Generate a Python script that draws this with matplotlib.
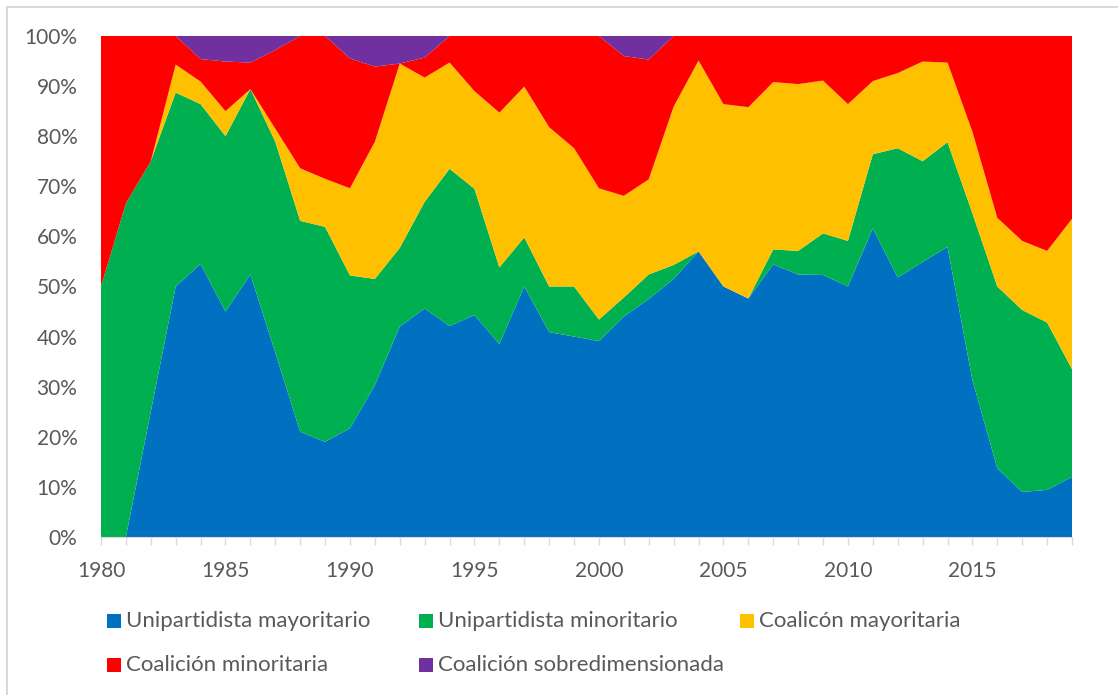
import numpy as np
import matplotlib.pyplot as plt
from matplotlib.patches import Rectangle
from matplotlib.lines import Line2D

# Data (share of governments by type, %)
years = np.arange(1980, 2020)

unip_mayoritario = [0, 0, 25, 50, 54.5, 45, 52.4, 36.8, 21, 19,
                    21.7, 30.3, 42, 45.6, 42.1, 44.3, 38.5, 50, 40.9, 40,
                    39.1, 44, 47.5, 51.5, 57, 50, 47.6, 54.4, 52.4, 52.3,
                    50, 61.6, 51.8, 54.9, 57.9, 31.3, 13.7, 9, 9.4, 12]
unip_minoritario = [50, 66.6, 50, 38.7, 31.9, 35, 37, 42.1, 42.1, 42.9,
                    30.5, 21.2, 15.7, 21.3, 31.4, 25.2, 15.3, 9.8, 9.1, 10,
                    4.3, 3.8, 4.9, 2.8, 0, 0, 0, 3, 4.7, 8.3,
                    9.1, 14.8, 25.8, 20.1, 20.9, 33.3, 36.3, 36.3, 33.4, 21.5]
coal_mayoritaria = [0, 0, 0, 5.6, 4.5, 5, 0, 2.6, 10.5, 9.6,
                    17.4, 27.4, 36.8, 24.8, 21.2, 19.5, 30.9, 30.1, 31.8, 27.6,
                    26.2, 20.3, 19, 31.6, 38.1, 36.4, 38.2, 33.4, 33.3, 30.5,
                    27.3, 14.6, 15, 19.9, 15.9, 16.3, 13.7, 13.8, 14.3, 30]
coal_minoritaria = [50, 33.4, 25, 5.7, 4.5, 9.9, 5.3, 15.7, 26.4, 28.5,
                    25.9, 15, 0, 4, 5.3, 11, 15.3, 10.1, 18.2, 22.4,
                    30.4, 27.9, 23.9, 14.1, 4.9, 13.6, 14.2, 9.2, 9.6, 8.9,
                    13.6, 9, 7.4, 5.1, 5.3, 19.1, 36.3, 40.9, 42.9, 36.5]
coal_sobredim = [0, 0, 0, 0, 4.6, 5.1, 5.3, 2.8, 0, 0,
                 4.5, 6.1, 5.5, 4.3, 0, 0, 0, 0, 0, 0,
                 0, 4, 4.7, 0, 0, 0, 0, 0, 0, 0,
                 0, 0, 0, 0, 0, 0, 0, 0, 0, 0]

labels = ["Unipartidista mayoritario", "Unipartidista minoritario",
          "Coalicón mayoritaria", "Coalición minoritaria",
          "Coalición sobredimensionada"]
colors = ["#0070C0", "#00B050", "#FFC000", "#FF0000", "#7030A0"]

plt.rcParams['font.family'] = ['Lato', 'DejaVu Sans']

W, H = 1118, 695
fig = plt.figure(figsize=(W / 100, H / 100), dpi=100)
ax = fig.add_axes([101 / W, 1 - 537 / H, (1072 - 101) / W, (537 - 36) / H])

# Stacked areas
ax.stackplot(years, unip_mayoritario, unip_minoritario, coal_mayoritaria,
             coal_minoritaria, coal_sobredim, colors=colors, linewidth=0)

# Axes styling
ax.set_xlim(1980, 2019)
ax.set_ylim(0, 100)
ax.set_yticks(np.arange(0, 101, 10))
ax.set_yticklabels([f"{v}%" for v in range(0, 101, 10)])
ax.set_xticks(years)
ax.set_xticklabels([str(y) if y % 5 == 0 else "" for y in years])
ax.tick_params(axis='y', length=0, pad=17, labelsize=15, labelcolor="#595959")
ax.tick_params(axis='x', length=6, width=1, color="#D9D9D9", pad=11,
               labelsize=15, labelcolor="#595959")
for side in ["top", "right", "left"]:
    ax.spines[side].set_visible(False)
ax.spines["bottom"].set_color("#D9D9D9")

# Legend, drawn by hand to follow the two-row layout
legend_pos = [(107, 621), (419, 621), (740, 621), (107, 665), (419, 665)]
for (px, py), lab, col in zip(legend_pos, labels, colors):
    fig.patches.append(Rectangle((px / W, 1 - (py + 7) / H), 14 / W, 14 / H,
                                 transform=fig.transFigure, facecolor=col,
                                 edgecolor="none"))
    fig.text((px + 19) / W, 1 - py / H, lab, fontsize=16, color="#595959",
             va="center", ha="left")

# Chart border (left and top visible)
fig.add_artist(Line2D([7 / W, 7 / W], [0, 1 - 7 / H], color="#D9D9D9", lw=1.5))
fig.add_artist(Line2D([7 / W, 1], [1 - 7 / H, 1 - 7 / H], color="#D9D9D9", lw=1.5))

fig.savefig("out.png", dpi=100)
